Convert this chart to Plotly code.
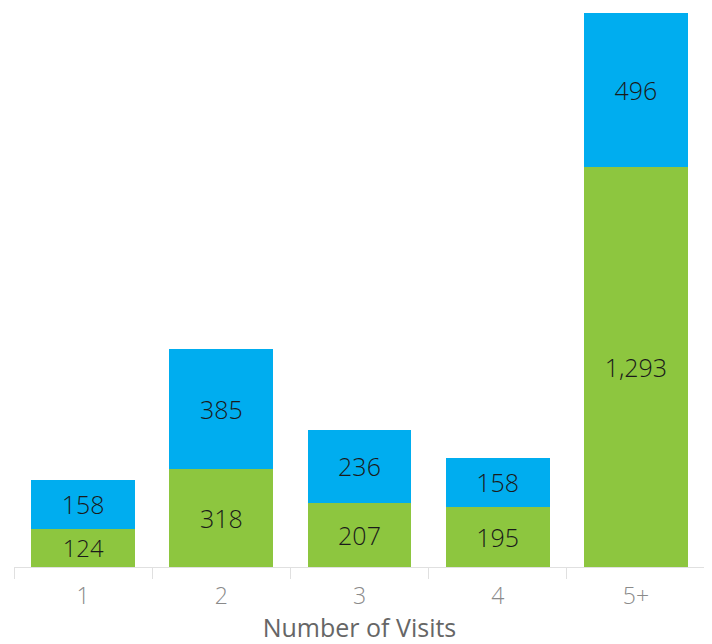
import plotly.graph_objects as go

categories = ["1", "2", "3", "4", "5+"]
green_vals = [124, 318, 207, 195, 1293]
blue_vals = [158, 385, 236, 158, 496]

GREEN = "#8DC63F"
BLUE = "#00ADEF"
FONT = "Open Sans"

fig = go.Figure()
for vals, col in ((green_vals, GREEN), (blue_vals, BLUE)):
    fig.add_trace(go.Bar(x=categories, y=vals, marker=dict(color=col, line=dict(width=0)),
                         texttemplate="%{y:,}", textposition="inside", insidetextanchor="middle",
                         textfont=dict(color="#1a1a1a", size=25, family=FONT, weight=300),
                         hoverinfo="skip"))

fig.update_layout(
    barmode="stack", bargap=0.25, showlegend=False,
    width=704, height=636,
    margin=dict(l=6, r=7, t=5, b=77, autoexpand=False),
    plot_bgcolor="white", paper_bgcolor="white",
    uniformtext=dict(mode=False),
)
fig.update_xaxes(
    showline=True, linecolor="#e0e0e0", linewidth=1,
    ticks="outside", tickson="boundaries", ticklen=11, tickcolor="#e0e0e0",
    ticklabelstandoff=8,
    tickfont=dict(size=23, color="#8a8a8a", family=FONT, weight=300),
    title=dict(text="Number of Visits", font=dict(size=25, color="#666666", family=FONT), standoff=6),
    showgrid=False, automargin=False,
)
fig.update_yaxes(range=[0, 1789], visible=False, showgrid=False, automargin=False)

fig.write_html("out.html")
